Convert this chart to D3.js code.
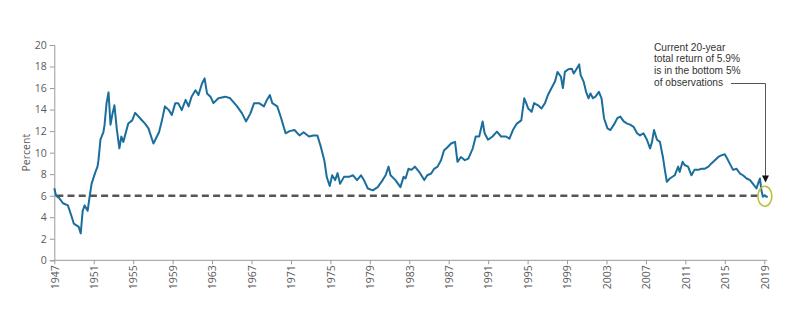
<!DOCTYPE html>
<html>
<head>
<meta charset="utf-8">
<script src="https://cdn.jsdelivr.net/npm/d3@7"></script>
<style>
  html, body { margin: 0; padding: 0; background: #fff; }
  svg { display: block; font-family: "Open Sans", "Noto Sans", sans-serif; }
</style>
</head>
<body>
<svg id="chart" width="789" height="327"></svg>
<script>
// ---- Data ----
const years = [
  1947.00,1947.18,1947.48,1947.88,1948.38,1948.78,1948.98,1949.48,1949.68,1949.88,
  1950.08,1950.38,1950.58,1950.78,1951.13,1951.38,1951.48,1951.68,1951.98,1952.10,
  1952.30,1952.50,1952.70,1952.90,1953.10,1953.35,1953.60,1953.80,1954.00,1954.50,
  1954.90,1955.20,1955.70,1956.20,1956.55,1957.05,1957.62,1957.92,1958.22,1958.62,
  1958.92,1959.27,1959.57,1959.92,1960.32,1960.62,1960.92,1961.32,1961.62,1961.97,
  1962.24,1962.49,1962.84,1963.14,1963.64,1964.34,1964.84,1965.54,1966.04,1966.44,
  1966.89,1967.26,1967.76,1968.26,1968.56,1968.86,1969.11,1969.61,1970.01,1970.26,
  1970.46,1970.86,1971.36,1971.86,1972.28,1972.83,1973.28,1973.68,1973.98,1974.38,
  1974.63,1974.93,1975.18,1975.48,1975.73,1975.98,1976.38,1976.88,1977.30,1977.70,
  1978.10,1978.40,1978.80,1979.30,1979.80,1980.30,1980.60,1980.90,1981.10,1981.60,
  1982.10,1982.42,1982.62,1982.92,1983.22,1983.57,1984.02,1984.52,1984.82,1985.22,
  1985.52,1985.87,1986.22,1986.52,1986.87,1987.24,1987.64,1987.89,1988.24,1988.64,
  1988.99,1989.44,1989.74,1990.09,1990.44,1990.64,1990.99,1991.44,1991.89,1992.31,
  1992.81,1993.16,1993.51,1993.91,1994.36,1994.66,1994.86,1995.06,1995.41,1995.66,
  1996.06,1996.41,1996.76,1997.06,1997.48,1997.78,1998.03,1998.38,1998.58,1998.78,
  1999.13,1999.48,1999.68,1999.98,2000.23,2000.38,2000.68,2000.93,2001.18,2001.38,
  2001.63,2001.88,2002.23,2002.50,2002.75,2003.10,2003.40,2003.75,2004.10,2004.40,
  2004.75,2005.10,2005.40,2005.75,2006.10,2006.40,2006.75,2007.10,2007.42,2007.62,
  2007.82,2008.12,2008.42,2008.72,2008.92,2009.12,2009.42,2009.92,2010.27,2010.42,
  2010.72,2010.92,2011.27,2011.62,2011.92,2012.29,2012.64,2012.94,2013.34,2013.64,
  2013.99,2014.34,2014.64,2014.99,2015.24,2015.49,2015.84,2016.19,2016.54,2016.84,
  2017.21,2017.56,2017.86,2018.21,2018.36,2018.56,2018.71,2018.86,2019.06,2019.21,
  2019.36
];
const values = [
  6.7,6.0,5.8,5.3,5.1,4.0,3.4,3.1,2.5,4.6,
  5.1,4.6,5.9,7.1,8.1,8.7,9.3,11.2,11.9,12.6,
  14.6,15.6,12.6,13.6,14.4,12.1,10.4,11.5,11.0,12.7,
  13.0,13.7,13.2,12.7,12.25,10.85,11.9,13.0,14.3,13.95,
  13.5,14.6,14.6,13.95,14.9,14.3,15.2,15.8,15.35,16.4,
  16.9,15.5,15.2,14.6,15.05,15.2,15.05,14.3,13.65,12.9,
  13.65,14.6,14.6,14.3,14.9,15.35,14.6,14.3,13.2,12.4,
  11.8,12.0,12.1,11.6,11.9,11.5,11.6,11.6,10.7,9.3,
  7.75,6.9,7.9,7.45,8.1,7.1,7.75,7.75,7.9,7.45,
  7.9,7.45,6.67,6.5,6.8,7.45,7.9,8.7,7.9,7.45,
  6.8,7.75,7.6,8.5,8.4,8.7,8.2,7.45,7.9,8.06,
  8.5,8.7,9.3,10.2,10.5,10.85,11.0,9.15,9.6,9.3,
  9.45,10.4,11.5,11.5,12.9,11.8,11.2,11.5,11.95,11.5,
  11.5,11.3,12.1,12.7,13.0,15.05,14.6,14.1,13.8,14.6,
  14.4,14.1,14.6,15.35,16.1,16.6,17.5,17.05,16.0,17.5,
  17.75,17.8,17.35,17.8,18.2,17.2,16.6,15.65,15.05,15.5,
  15.05,15.2,15.65,15.05,13.2,12.25,12.1,12.6,13.2,13.35,
  12.9,12.7,12.6,12.4,11.8,11.6,11.8,11.2,10.4,11.0,
  12.1,11.2,11.0,9.6,8.4,7.3,7.6,7.9,8.7,8.2,
  9.15,8.85,8.7,7.9,8.4,8.4,8.5,8.5,8.7,9.0,
  9.3,9.6,9.75,9.85,9.45,9.0,8.4,8.5,8.06,7.9,
  7.6,7.45,7.1,6.67,7.1,7.6,6.5,5.9,6.05,5.9,
  5.9
];
const yTicks = [0, 2, 4, 6, 8, 10, 12, 14, 16, 18, 20];
const xTicks = [1947,1951,1955,1959,1963,1967,1971,1975,1979,1983,1987,1991,1995,1999,2003,2007,2011,2015,2019];
const thresholdValue = 6;
const yLabel = "Percent";
const annotationLines = ["Current 20-year", "total return of 5.9%", "is in the bottom 5%", "of observations"];
const currentYear = 2019.06;
const currentValue = 5.95;

// ---- Drawing ----
const svg = d3.select("#chart");
const x = d3.scaleLinear().domain([1947, 2019.4]).range([54.3, 768.2]);
const y = d3.scaleLinear().domain([0, 20]).range([260.3, 45]);

const axisColor = "#9a9a9a";
const textColor = "#5a5a5a";

// Y axis
const yAxis = svg.append("g").attr("transform", `translate(${x(1947)},0)`)
  .call(d3.axisLeft(y).tickValues(yTicks).tickSize(4.5).tickPadding(3).tickFormat(d3.format("d")));
yAxis.select(".domain").attr("stroke", axisColor).attr("stroke-width", 1);
yAxis.selectAll(".tick line").attr("stroke", axisColor);
yAxis.selectAll(".tick text").attr("fill", textColor).style("font-size", "10.5px")
  .style("font-family", '"Open Sans", sans-serif');

// X axis
const xAxis = svg.append("g").attr("transform", `translate(0,${y(0)})`)
  .call(d3.axisBottom(x).tickValues(xTicks).tickSize(4).tickFormat(d3.format("d")));
xAxis.select(".domain").attr("stroke", axisColor).attr("stroke-width", 1)
  .attr("d", `M${x(1947)},0H${x(2019.3)}`);
xAxis.selectAll(".tick line").attr("stroke", axisColor);
xAxis.selectAll(".tick text")
  .attr("fill", textColor)
  .style("font-size", "10.5px")
  .style("font-family", '"Open Sans", sans-serif')
  .attr("text-anchor", "end")
  .attr("transform", "rotate(-90)")
  .attr("x", -5)
  .attr("y", 0)
  .attr("dy", "0.36em");

// Y label
svg.append("text")
  .attr("transform", `translate(30,${(y(0) + y(20)) / 2}) rotate(-90)`)
  .attr("text-anchor", "middle")
  .attr("fill", textColor)
  .style("font-size", "10.5px")
  .text(yLabel);

// Threshold dashed line
svg.append("line")
  .attr("x1", x(1947) + 2).attr("x2", x(2018.75))
  .attr("y1", y(thresholdValue)).attr("y2", y(thresholdValue))
  .attr("stroke", "#555")
  .attr("stroke-width", 2.4)
  .attr("stroke-dasharray", "7,4.2");

// Series line
const pts = years.map((yr, i) => [yr, values[i]]);
svg.append("path")
  .datum(pts)
  .attr("fill", "none")
  .attr("stroke", "#1b6e9c")
  .attr("stroke-width", 2)
  .attr("stroke-linejoin", "round")
  .attr("d", d3.line().x(d => x(d[0])).y(d => y(d[1])));

// Highlight ellipse
svg.append("ellipse")
  .attr("cx", x(currentYear)).attr("cy", y(currentValue))
  .attr("rx", 7).attr("ry", 10)
  .attr("fill", "none")
  .attr("stroke", "#b9c13c")
  .attr("stroke-width", 1.6);

// Annotation text (one text element per line)
svg.selectAll("text.ann")
  .data(annotationLines)
  .join("text")
  .attr("class", "ann")
  .attr("x", 654)
  .attr("y", (d, i) => 50.5 + i * 11.8)
  .attr("fill", "#333")
  .style("font-family", '"Liberation Sans", Arial, sans-serif')
  .style("font-size", "10.2px")
  .text(d => d);

// Connector + arrow
const ax = 765.5;
svg.append("path")
  .attr("d", `M731,83.5H${ax}V176`)
  .attr("fill", "none")
  .attr("stroke", "#555")
  .attr("stroke-width", 1);
svg.append("path")
  .attr("d", `M${ax - 3.5},175.5L${ax + 3.5},175.5L${ax},182.5Z`)
  .attr("fill", "#111");
</script>
</body>
</html>
